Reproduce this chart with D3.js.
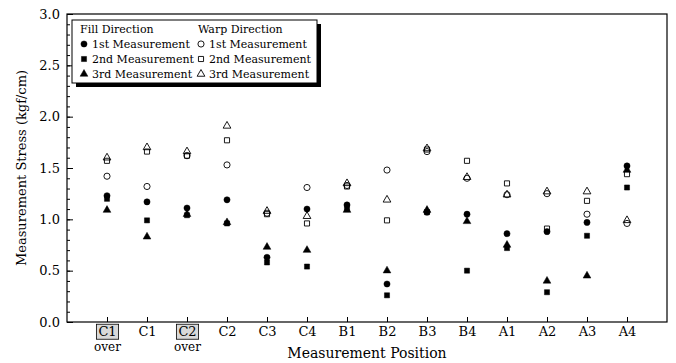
<!DOCTYPE html>
<html>
<head>
<meta charset="utf-8">
<script src="https://cdn.jsdelivr.net/npm/d3@7"></script>
<style>
  body { margin: 0; background: #fff; }
</style>
</head>
<body>
<div id="chart"></div>
<script>
// categories along the x axis
const positions = ["C1", "C1", "C2", "C2", "C3", "C4", "B1", "B2", "B3", "B4", "A1", "A2", "A3", "A4"];
const overFlags = [true, false, true, false, false, false, false, false, false, false, false, false, false, false];

// fill direction (filled markers)
const fill1 = [1.23, 1.17, 1.11, 1.19, 0.63, 1.10, 1.14, 0.37, 1.07, 1.05, 0.86, 0.88, 0.97, 1.52];
const fill2 = [1.20, 0.99, 1.04, 0.96, 0.58, 0.54, 1.10, 0.26, 1.07, 0.50, 0.72, 0.29, 0.84, 1.31];
const fill3 = [1.09, 0.83, 1.05, 0.97, 0.73, 0.70, 1.09, 0.50, 1.09, 0.98, 0.75, 0.40, 0.45, 1.48];

// warp direction (open markers)
const warp1 = [1.42, 1.32, 1.62, 1.53, 1.06, 1.31, 1.33, 1.48, 1.66, 1.40, 1.24, 1.25, 1.05, 0.96];
const warp2 = [1.57, 1.66, 1.62, 1.77, 1.05, 0.96, 1.32, 0.99, 1.68, 1.57, 1.35, 0.91, 1.18, 1.44];
const warp3 = [1.60, 1.70, 1.66, 1.91, 1.08, 1.03, 1.35, 1.19, 1.69, 1.41, 1.24, 1.27, 1.27, 0.99];

const yTicks = [0, 0.5, 1.0, 1.5, 2.0, 2.5, 3.0];

const FONT = "DejaVu Serif";
const width = 676, height = 363;
const margin = { top: 14, right: 9, bottom: 41, left: 67 };

const svg = d3.select("#chart").append("svg")
  .attr("width", width)
  .attr("height", height)
  .attr("font-family", FONT);

const x = d3.scaleLinear().domain([-1, positions.length]).range([margin.left, width - margin.right]);
const y = d3.scaleLinear().domain([0, 3]).range([height - margin.bottom, margin.top]);

const symbolSize = { circle: 30, square: 26, triangle: 26 };

// y axis: minor + major ticks pointing inward
svg.append("g")
  .attr("transform", `translate(${margin.left},0)`)
  .call(d3.axisLeft(y).tickValues(d3.range(0, 3.001, 0.1)).tickSize(-3).tickFormat(""))
  .call(g => g.select(".domain").remove())
  .call(g => g.selectAll("line").attr("stroke", "#000"));

svg.append("g")
  .attr("transform", `translate(${margin.left},0)`)
  .call(d3.axisLeft(y).tickValues(yTicks).tickSize(-6).tickPadding(7).tickFormat(d3.format(".1f")))
  .attr("font-family", FONT).attr("font-size", 13)
  .call(g => g.select(".domain").remove())
  .call(g => g.selectAll("line").attr("stroke", "#000"))
  .call(g => g.selectAll("text").attr("fill", "#000"));

// x axis
const xAxis = svg.append("g")
  .attr("transform", `translate(0,${height - margin.bottom})`)
  .call(d3.axisBottom(x).tickValues(d3.range(positions.length)).tickSize(-5).tickPadding(5)
    .tickFormat(i => positions[i]))
  .attr("font-family", FONT).attr("font-size", 13);
xAxis.select(".domain").remove();
xAxis.selectAll("line").attr("stroke", "#000");
xAxis.selectAll("text").attr("fill", "#000");

// boxed "over" labels
xAxis.selectAll(".tick").filter(i => overFlags[i]).each(function () {
  const t = d3.select(this);
  const bb = t.select("text").node().getBBox();
  t.insert("rect", "text")
    .attr("x", bb.x - 2).attr("y", bb.y)
    .attr("width", bb.width + 4).attr("height", bb.height)
    .attr("fill", "#d9d9d9").attr("stroke", "#000").attr("stroke-width", 0.8);
  t.append("text")
    .attr("y", 20).attr("dy", "0.71em")
    .attr("text-anchor", "middle")
    .attr("font-size", 12).attr("fill", "#000")
    .text("over");
});

// frame
svg.append("rect")
  .attr("x", margin.left).attr("y", margin.top)
  .attr("width", width - margin.left - margin.right)
  .attr("height", height - margin.top - margin.bottom)
  .attr("fill", "none").attr("stroke", "#000").attr("stroke-width", 1.2);

// axis titles
svg.append("text")
  .attr("x", (margin.left + width - margin.right) / 2)
  .attr("y", 358)
  .attr("text-anchor", "middle")
  .attr("font-size", 14)
  .text("Measurement Position");

svg.append("text")
  .attr("transform", `translate(26,${(margin.top + height - margin.bottom) / 2}) rotate(-90)`)
  .attr("text-anchor", "middle")
  .attr("font-size", 13)
  .text("Measurement Stress (kgf/cm)");

// data series
const series = [
  { values: fill1, shape: d3.symbolCircle, size: symbolSize.circle, filled: true },
  { values: fill2, shape: d3.symbolSquare, size: symbolSize.square, filled: true },
  { values: fill3, shape: d3.symbolTriangle, size: symbolSize.triangle, filled: true },
  { values: warp1, shape: d3.symbolCircle, size: symbolSize.circle, filled: false },
  { values: warp2, shape: d3.symbolSquare, size: symbolSize.square, filled: false },
  { values: warp3, shape: d3.symbolTriangle, size: symbolSize.triangle, filled: false },
];

function drawMarker(g, s, cx, cy) {
  g.append("path")
    .attr("d", d3.symbol().type(s.shape).size(s.size)())
    .attr("transform", `translate(${cx},${cy})`)
    .attr("fill", s.filled ? "#000" : "#fff")
    .attr("fill-opacity", s.filled ? 1 : 0)
    .attr("stroke", "#000")
    .attr("stroke-width", s.filled ? 0.5 : 0.9);
}

const marks = svg.append("g");
series.forEach(s => {
  s.values.forEach((v, i) => drawMarker(marks, s, x(i), y(v)));
});

// legend
const legend = svg.append("g").attr("transform", "translate(72,20)");
const lw = 245, lh = 63;
legend.append("rect").attr("x", 4).attr("y", 4).attr("width", lw).attr("height", lh).attr("fill", "#000");
legend.append("rect").attr("width", lw).attr("height", lh).attr("fill", "#fff").attr("stroke", "#000").attr("stroke-width", 1);

const headers = [{ label: "Fill Direction", x: 8 }, { label: "Warp Direction", x: 126 }];
headers.forEach(h => legend.append("text").attr("x", h.x).attr("y", 13).attr("font-size", 11).text(h.label));

const legendRows = ["1st Measurement", "2nd Measurement", "3rd Measurement"];
legendRows.forEach((label, r) => {
  const ry = 28 + r * 15;
  [0, 1].forEach(col => {
    const s = series[col * 3 + r];
    const cx = col === 0 ? 12 : 129;
    drawMarker(legend, s, cx, ry - 4);
    legend.append("text").attr("x", cx + 8).attr("y", ry).attr("font-size", 11).text(label);
  });
});
</script>
</body>
</html>
